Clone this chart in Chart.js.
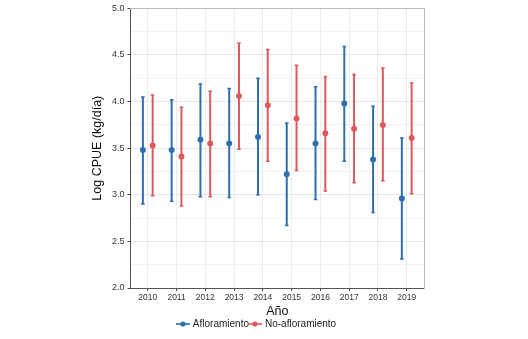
<!DOCTYPE html>
<html><head><meta charset="utf-8">
<script src="https://cdn.jsdelivr.net/npm/chart.js@4"></script>
<style>html,body{margin:0;padding:0;background:#fff}#wrap{width:528px;height:339px}</style>
</head><body><div id="wrap"><canvas id="c" width="528" height="339"></canvas></div>
<script>
const years = ['2010','2011','2012','2013','2014','2015','2016','2017','2018','2019'];
const aflMean  = [3.48,3.48,3.59,3.55,3.62,3.22,3.55,3.98,3.38,2.96];
const aflHigh  = [4.05,4.02,4.19,4.14,4.25,3.77,4.16,4.59,3.95,3.61];
const aflLow   = [2.90,2.93,2.98,2.97,3.00,2.67,2.95,3.36,2.81,2.31];
const noMean   = [3.53,3.41,3.55,4.06,3.96,3.82,3.66,3.71,3.75,3.61];
const noHigh   = [4.07,3.94,4.11,4.63,4.56,4.39,4.27,4.29,4.36,4.20];
const noLow    = [2.99,2.88,2.98,3.49,3.36,3.26,3.04,3.13,3.15,3.01];
const yTicks = ['2.0','2.5','3.0','3.5','4.0','4.5','5.0'];

const BLUE = '#2f6fad', RED = '#dc5a5e';
const DODGE = 0.17;

function ranges(lo, hi, off){
  const out = [];
  lo.forEach((v,i)=>{ out.push({x:i+off,y:v},{x:i+off,y:hi[i]},{x:i+off,y:null}); });
  return out;
}
function pts(vals, off){ return vals.map((v,i)=>({x:i+off,y:v})); }
function caps(lo, hi, off){ const o=[]; lo.forEach((v,i)=>{o.push({x:i+off,y:v},{x:i+off,y:hi[i]});}); return o; }
function icon(color){
  const c=document.createElement('canvas'); c.width=14; c.height=8;
  const g=c.getContext('2d'); g.strokeStyle=color; g.lineWidth=1.6;
  g.beginPath(); g.moveTo(0,4); g.lineTo(14,4); g.stroke();
  g.fillStyle=color; g.beginPath(); g.arc(7,4,2.6,0,Math.PI*2); g.fill();
  return c;
}
const iconB = icon(BLUE), iconR = icon(RED);

const ds = [
  {type:'line', label:'_e1', data:ranges(aflLow,aflHigh,-DODGE), borderColor:BLUE, borderWidth:2, pointRadius:0, spanGaps:false},
  {type:'line', label:'_e2', data:ranges(noLow,noHigh,DODGE), borderColor:RED, borderWidth:2, pointRadius:0, spanGaps:false},
  {type:'scatter', label:'_c1', data:caps(aflLow,aflHigh,-DODGE), pointStyle:'line', radius:1.8, borderColor:BLUE, borderWidth:1.5},
  {type:'scatter', label:'_c2', data:caps(noLow,noHigh,DODGE), pointStyle:'line', radius:1.8, borderColor:RED, borderWidth:1.5},
  {type:'scatter', label:'Afloramiento', data:pts(aflMean,-DODGE), pointStyle:'circle', radius:3, backgroundColor:BLUE, borderColor:BLUE, borderWidth:0},
  {type:'scatter', label:'No-afloramiento', data:pts(noMean,DODGE), pointStyle:'circle', radius:3, backgroundColor:RED, borderColor:RED, borderWidth:0}
];

const FONT = "'Liberation Sans', Arial, sans-serif";
new Chart(document.getElementById('c'), {
  type:'scatter',
  data:{datasets:ds},
  options:{
    responsive:false, animation:false, devicePixelRatio:1,
    layout:{padding:{left:90,right:104,top:8,bottom:0}},
    plugins:{
      tooltip:{enabled:false},
      legend:{
        position:'bottom',
        labels:{
          font:{family:FONT,size:10}, color:'#222', boxWidth:14, padding:1,
          usePointStyle:true,
          generateLabels:(chart)=>[
            {text:'Afloramiento', pointStyle:iconB, fillStyle:BLUE, strokeStyle:BLUE, lineWidth:0, datasetIndex:4, fontColor:'#222'},
            {text:'No-afloramiento', pointStyle:iconR, fillStyle:RED, strokeStyle:RED, lineWidth:0, datasetIndex:5, fontColor:'#222'}
          ]
        }
      }
    },
    scales:{
      x:{
        type:'linear', min:-0.6, max:9.6,
        afterBuildTicks:(s)=>{ s.ticks = years.map((_,i)=>({value:i})); },
        ticks:{callback:(v)=>years[v] ?? '', font:{family:FONT,size:8.5,lineHeight:1}, color:'#333', padding:2, maxRotation:0, autoSkip:false},
        grid:{color:'#ebebeb', tickColor:'#444', tickLength:3, lineWidth:1},
        border:{color:'#555', width:1},
        title:{display:true, text:'Año', font:{family:FONT,size:12.5,lineHeight:1}, color:'#111', padding:{top:2,bottom:0}}
      },
      y:{
        type:'linear', min:2, max:5,
        afterBuildTicks:(s)=>{ const t=[]; for(let k=0;k<=12;k++) t.push({value:2+k*0.25}); s.ticks=t; },
        ticks:{callback:(v)=>{ const i=Math.round((v-2)/0.5); return Math.abs(v-2-i*0.5)<1e-6 ? yTicks[i] : ''; }, font:{family:FONT,size:9}, color:'#333', padding:3, autoSkip:false},
        grid:{color:(c)=>{ const v=c.tick.value; return Math.abs((v*2)-Math.round(v*2))<1e-6 ? '#e6e6e6' : '#f3f3f3'; },
              tickColor:(c)=>{ const v=c.tick.value; return Math.abs((v*2)-Math.round(v*2))<1e-6 ? '#444' : 'rgba(0,0,0,0)'; },
              tickLength:3, lineWidth:1},
        border:{color:'#555', width:1},
        title:{display:true, text:'Log CPUE (kg/día)', font:{family:FONT,size:12.5}, color:'#111', padding:{top:0,bottom:4}}
      },
      x2:{type:'linear', position:'top', min:-0.6, max:9.6, display:true, ticks:{display:false}, grid:{display:false, drawTicks:false}, border:{color:'#bbbbbb', width:1}},
      y2:{type:'linear', position:'right', min:2, max:5, display:true, ticks:{display:false}, grid:{display:false, drawTicks:false}, border:{color:'#bbbbbb', width:1}}
    }
  }
});
</script></body></html>
